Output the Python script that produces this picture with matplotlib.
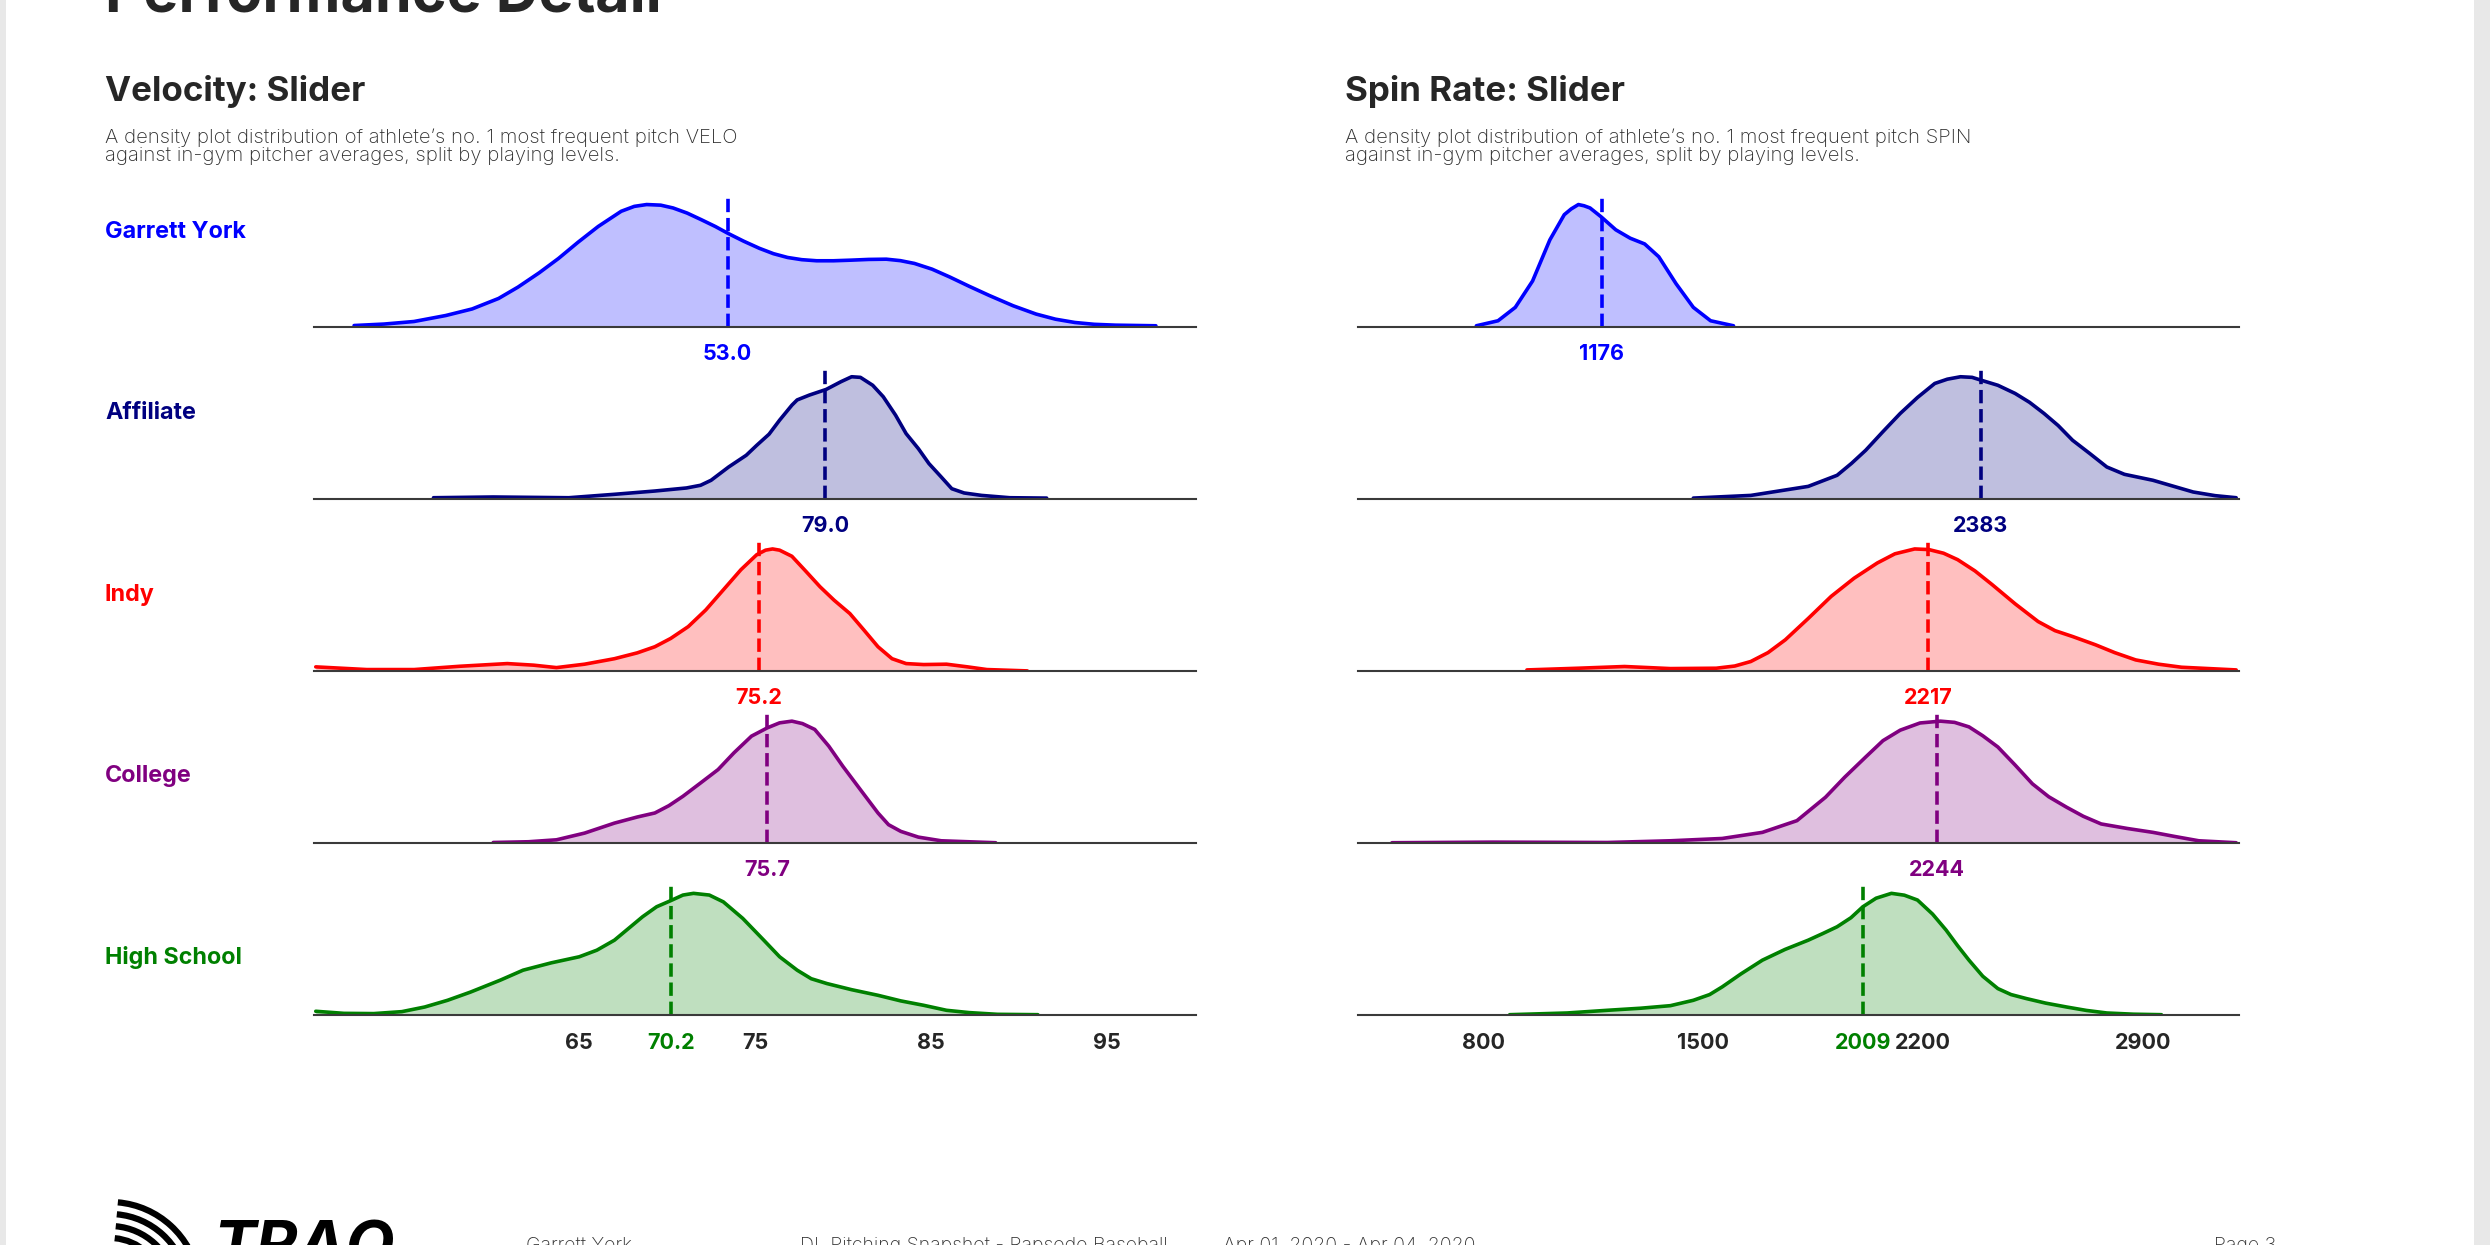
# Performance Detail - velocity / spin density rows by playing level
import numpy as np
import matplotlib
matplotlib.use('Agg')
import matplotlib.pyplot as plt
from matplotlib.patches import Arc, Rectangle

plt.rcParams['font.family'] = ['Inter', 'DejaVu Sans']

# levels, colours, means
levels = ['Garrett York', 'Affiliate', 'Indy', 'College', 'High School']
level_colors = ['#0000ff', '#000080', '#ff0000', '#800080', '#008000']
velo_means = [53.0, 79.0, 75.2, 75.7, 70.2]
spin_means = [1176, 2383, 2217, 2244, 2009]
velo_ticks = [65, 75, 85, 95]
spin_ticks = [800, 1500, 2200, 2900]

# density curves (height relative to each curve's own peak)
gy_velo_x = [31.8, 33.5, 35.2, 37.0, 38.5, 40.0, 41.1, 42.3, 43.4, 44.5, 45.65, 46.96, 47.7, 48.4,
             49.2, 49.9, 50.7, 51.5, 52.3, 53.0, 53.9, 54.8, 55.6, 56.4, 57.2, 58.05, 59.0, 60.0,
             61.0, 62.0, 62.8, 63.6, 64.6, 65.6, 66.7, 67.85, 69.2, 70.5, 71.6, 72.7, 73.8, 75.0, 77.3]
gy_velo_y = [0.008, 0.02, 0.041, 0.09, 0.144, 0.23, 0.323, 0.44, 0.558, 0.69, 0.82, 0.945, 0.985, 1.0,
             0.995, 0.972, 0.93, 0.876, 0.82, 0.765, 0.70, 0.641, 0.597, 0.566, 0.548, 0.539, 0.539, 0.544,
             0.55, 0.552, 0.54, 0.517, 0.47, 0.406, 0.33, 0.254, 0.17, 0.102, 0.06, 0.033, 0.018, 0.011, 0.006]
aff_velo_x = [56.7, 60.1, 64.4, 67.0, 69.3, 71.1, 71.9, 72.5, 73.5, 74.5, 75.1, 75.8, 76.4, 77.1,
              77.4, 78.1, 79.05, 79.9, 80.5, 81.0, 81.7, 82.3, 83.0, 83.6, 84.3, 84.9, 85.6, 86.2,
              86.9, 87.9, 89.5, 91.6]
aff_velo_y = [0.008, 0.014, 0.008, 0.036, 0.063, 0.088, 0.11, 0.151, 0.26, 0.356, 0.438, 0.529, 0.644, 0.767,
              0.81, 0.85, 0.896, 0.96, 1.0, 0.995, 0.93, 0.836, 0.685, 0.534, 0.41, 0.288, 0.178, 0.082,
              0.047, 0.027, 0.008, 0.005]
indy_velo_x = [50.0, 52.9, 55.6, 58.2, 60.9, 62.4, 63.7, 65.3, 67.0, 68.3, 69.3, 70.2, 71.2, 72.2,
               73.2, 74.2, 75.1, 75.6, 76.0, 76.4, 77.1, 77.9, 78.7, 79.5, 80.4, 81.2, 82.0, 82.8,
               83.6, 84.6, 85.9, 87.1, 88.2, 90.5]
indy_velo_y = [0.033, 0.011, 0.011, 0.038, 0.06, 0.047, 0.027, 0.055, 0.10, 0.148, 0.198, 0.266, 0.363, 0.5,
               0.665, 0.83, 0.953, 0.99, 1.0, 0.99, 0.94, 0.816, 0.69, 0.58, 0.47, 0.335, 0.198, 0.10,
               0.06, 0.052, 0.055, 0.033, 0.011, 0.0]
col_velo_x = [60.1, 62.1, 63.7, 65.3, 67.0, 68.3, 69.3, 70.1, 70.9, 71.9, 72.9, 73.8, 74.8, 75.7,
              76.4, 77.1, 77.7, 78.4, 79.2, 80.0, 81.0, 82.0, 82.6, 83.3, 84.3, 85.6, 88.7]
col_velo_y = [0.005, 0.011, 0.027, 0.082, 0.164, 0.214, 0.247, 0.307, 0.384, 0.493, 0.603, 0.74, 0.877, 0.945,
              0.986, 1.0, 0.98, 0.932, 0.795, 0.63, 0.438, 0.247, 0.151, 0.096, 0.049, 0.019, 0.003]
hs_velo_x = [50.0, 51.6, 53.3, 54.9, 56.2, 57.5, 58.8, 60.5, 61.8, 63.4, 65.0, 66.0, 67.0, 67.8,
             68.6, 69.4, 70.2, 70.9, 71.5, 72.4, 73.2, 74.3, 75.5, 76.4, 77.4, 78.2, 79.1, 80.5,
             82.0, 83.3, 84.6, 85.9, 87.2, 88.8, 91.1]
hs_velo_y = [0.033, 0.016, 0.014, 0.03, 0.068, 0.123, 0.19, 0.288, 0.37, 0.43, 0.48, 0.534, 0.616, 0.712,
             0.808, 0.89, 0.94, 0.986, 1.0, 0.986, 0.93, 0.795, 0.616, 0.48, 0.37, 0.30, 0.26, 0.21,
             0.164, 0.118, 0.082, 0.041, 0.022, 0.008, 0.005]

gy_spin_x = [777, 846, 901, 956, 1011, 1057, 1079, 1102, 1120, 1139, 1175, 1221, 1267, 1313,
             1358, 1413, 1468, 1523, 1596]
gy_spin_y = [0.006, 0.047, 0.157, 0.373, 0.71, 0.917, 0.964, 1.0, 0.99, 0.972, 0.898, 0.793, 0.724, 0.677,
             0.572, 0.351, 0.157, 0.047, 0.006]
aff_spin_x = [1468, 1651, 1834, 1926, 1972, 2017, 2072, 2127, 2182, 2237, 2277, 2319, 2356, 2383,
              2438, 2493, 2539, 2585, 2630, 2676, 2731, 2785, 2841, 2932, 3000, 3060, 3130, 3197]
aff_spin_y = [0.005, 0.027, 0.101, 0.192, 0.29, 0.397, 0.55, 0.699, 0.83, 0.945, 0.98, 1.0, 0.995, 0.973,
              0.93, 0.863, 0.79, 0.699, 0.6, 0.479, 0.37, 0.26, 0.2, 0.151, 0.10, 0.055, 0.025, 0.008]
indy_spin_x = [938, 1102, 1249, 1395, 1541, 1600, 1651, 1706, 1761, 1834, 1907, 1980, 2054, 2110,
               2173, 2218, 2265, 2310, 2365, 2420, 2493, 2566, 2620, 2676, 2749, 2810, 2877, 2950,
               3023, 3197]
indy_spin_y = [0.008, 0.022, 0.036, 0.019, 0.022, 0.04, 0.077, 0.15, 0.255, 0.43, 0.611, 0.76, 0.885, 0.96,
               1.0, 0.995, 0.965, 0.912, 0.82, 0.707, 0.55, 0.405, 0.33, 0.282, 0.214, 0.15, 0.09, 0.055,
               0.03, 0.008]
col_spin_x = [508, 828, 1194, 1395, 1560, 1688, 1798, 1889, 1950, 2017, 2072, 2127, 2190, 2255,
              2300, 2346, 2390, 2438, 2493, 2548, 2600, 2657, 2710, 2767, 2850, 2932, 3000, 3078, 3197]
col_spin_y = [0.003, 0.008, 0.005, 0.019, 0.038, 0.088, 0.184, 0.376, 0.54, 0.706, 0.84, 0.926, 0.985, 1.0,
              0.99, 0.953, 0.88, 0.788, 0.64, 0.486, 0.38, 0.294, 0.22, 0.157, 0.12, 0.088, 0.055, 0.019, 0.003]
hs_spin_x = [883, 1066, 1194, 1300, 1395, 1468, 1520, 1560, 1620, 1688, 1760, 1834, 1880, 1926,
             1970, 2008, 2050, 2099, 2140, 2182, 2230, 2273, 2310, 2346, 2390, 2438, 2480, 2529,
             2590, 2657, 2720, 2785, 2870, 2959]
hs_spin_y = [0.005, 0.019, 0.041, 0.058, 0.079, 0.123, 0.17, 0.233, 0.34, 0.452, 0.54, 0.616, 0.67, 0.726,
             0.80, 0.89, 0.96, 1.0, 0.985, 0.945, 0.83, 0.699, 0.57, 0.452, 0.32, 0.219, 0.17, 0.137,
             0.10, 0.068, 0.04, 0.019, 0.009, 0.005]

velo_curves = [(gy_velo_x, gy_velo_y), (aff_velo_x, aff_velo_y), (indy_velo_x, indy_velo_y),
               (col_velo_x, col_velo_y), (hs_velo_x, hs_velo_y)]
spin_curves = [(gy_spin_x, gy_spin_y), (aff_spin_x, aff_spin_y), (indy_spin_x, indy_spin_y),
               (col_spin_x, col_spin_y), (hs_spin_x, hs_spin_y)]

W, H = 2490, 1245
fig = plt.figure(figsize=(24.9, 12.45), dpi=100)
fig.patch.set_facecolor('white')

# overlay in pixel coords for page furniture
bg = fig.add_axes([0, 0, 1, 1], zorder=0)
bg.set_xlim(0, W)
bg.set_ylim(H, 0)
bg.axis('off')
bg.add_patch(Rectangle((0, 0), 6, H, color='#e8e8e8', lw=0))
bg.add_patch(Rectangle((2474, 0), 16, H, color='#e8e8e8', lw=0))

dark = '#262626'
bg.text(105, 12, 'Performance Detail', fontsize=42.5, fontweight='bold', color=dark, va='baseline')
for x0, head, word in [(105, 'Velocity: Slider', 'VELO'), (1345, 'Spin Rate: Slider', 'SPIN')]:
    bg.text(x0, 101, head, fontsize=25.2, fontweight='bold', color=dark, va='baseline')
    bg.text(x0, 143, "A density plot distribution of athlete\u2019s no. 1 most frequent pitch " + word,
            fontsize=14.6, fontweight='light', color='#2e2e2e', va='baseline')
    bg.text(x0, 161, 'against in-gym pitcher averages, split by playing levels.',
            fontsize=14.6, fontweight='light', color='#2e2e2e', va='baseline')

for i, (name, c) in enumerate(zip(levels, level_colors)):
    bg.text(105, 231.7 + 181.4 * i, name, fontsize=16.8, fontweight='bold', color=c, va='center')

# footer
for x0, s in [(526, 'Garrett York'), (800, 'DL Pitching Snapshot - Rapsodo Baseball'),
              (1223, 'Apr 01, 2020 - Apr 04, 2020'), (2214, 'Page 3')]:
    bg.text(x0, 1237, s, fontsize=14, fontweight='light', color='#333333', va='top')
bg.text(213, 1221, 'TRAQ', fontsize=46, fontweight='bold', fontstyle='italic', color='black', va='top')
for r in [90, 78, 66, 54]:
    bg.add_patch(Arc((110, 1292), 2 * r, 2 * r, theta1=-85, theta2=-10, color='black', lw=4.5))


def draw_row(ax, xs, ys, mean, c, fmt, bottom, ticks, xlim):
    ax.fill_between(xs, ys, 0, color=c, alpha=0.25, lw=0)
    ax.plot(xs, ys, color=c, lw=2.6, solid_joinstyle='round', solid_capstyle='round')
    ax.vlines(mean, 0, 1.057, color=c, lw=2.6, linestyles='--')
    if xlim is not None:
        ax.set_xlim(*xlim)
    ax.set_ylim(0, 1.23)
    ax.patch.set_alpha(0)
    for s in ['top', 'left', 'right']:
        ax.spines[s].set_visible(False)
    ax.spines['bottom'].set_color('#3a3a3a')
    ax.spines['bottom'].set_linewidth(1.5)
    ax.set_yticks([])
    ax.annotate(fmt.format(mean), xy=(mean, 0), xycoords=('data', 'axes fraction'),
                xytext=(0, -12.5), textcoords='offset points', ha='center', va='top',
                fontsize=15.5, fontweight='bold', color=c)
    if bottom:
        ax.set_xticks(ticks)
        ax.tick_params(axis='x', length=0, pad=12.5, labelsize=15.5, labelcolor=dark)
        for lbl in ax.get_xticklabels():
            lbl.set_fontweight('bold')
    else:
        ax.set_xticks([])


row_h = 150
for i in range(5):
    base = 326.5 + 172.2 * i
    bottom_frac = 1 - base / H
    ax_v = fig.add_axes([314 / W, bottom_frac, (1196 - 314) / W, row_h / H])
    ax_s = fig.add_axes([1358 / W, bottom_frac, (2239 - 1358) / W, row_h / H])
    vx, vy = velo_curves[i]
    sx, sy = spin_curves[i]
    draw_row(ax_v, vx, vy, velo_means[i], level_colors[i], '{:.1f}', i == 4, velo_ticks,
             None if i == 0 else (49.9, 100.1))
    draw_row(ax_s, sx, sy, spin_means[i], level_colors[i], '{:.0f}', i == 4, spin_ticks,
             (400, 3206))

fig.savefig('out.png', dpi=100)
